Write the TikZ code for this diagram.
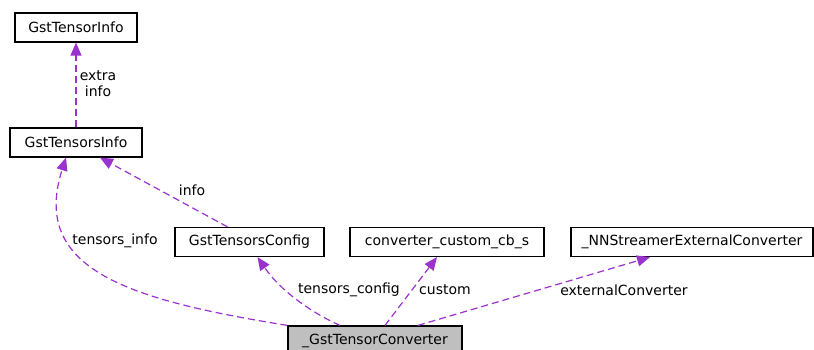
\documentclass[tikz,border=0pt]{standalone}
\usepackage{fontspec}
\setmainfont{DejaVu Sans}
\usetikzlibrary{arrows.meta}
\definecolor{edgepurple}{HTML}{9A32CD}
\definecolor{boxgray}{HTML}{BFBFBF}
\tikzset{
  box/.style={draw, line width=1.2pt, fill=white, minimum height=29pt, inner sep=0pt, font=\fontsize{14}{16}\selectfont},
  edge/.style={draw=edgepurple, line width=1.2pt, dash pattern=on 7pt off 4pt, -{Triangle[length=13pt,width=11pt,fill=edgepurple]}},
  lbl/.style={font=\fontsize{14}{16}\selectfont, align=center}
}
\begin{document}
\begin{tikzpicture}[x=1pt,y=-1pt]
		\useasboundingbox (0,0) rectangle (814,350);
		% Classes
		\node[box, minimum width=122pt] (tinfo) at (76,27.5) {GstTensorInfo};
		\node[box, minimum width=132pt] (tsinfo) at (76,142.5) {GstTensorsInfo};
		\node[box, minimum width=149pt] (tsconfig) at (249.5,242) {GstTensorsConfig};
		\node[box, minimum width=194pt] (custom) at (447,242) {converter\_custom\_cb\_s};
		\node[box, minimum width=242pt] (extconv) at (692,242) {\_NNStreamerExternalConverter};
		\node[box, minimum width=174pt, fill=boxgray] (conv) at (375,340.5) {\_GstTensorConverter};
		
		% Edges
		\draw[edge] (tsinfo.north) -- (tinfo.south);
		\draw[edge] ([xshift=-22pt]tsconfig.north) -- ([xshift=24pt]tsinfo.south);
		\draw[edge] (conv.north west) .. controls (130,300) and (30,270) .. ([xshift=-10pt]tsinfo.south);
		\draw[edge] ([xshift=-35pt]conv.north) .. controls (310,312) and (280,290) .. ([xshift=8pt]tsconfig.south);
		\draw[edge] ([xshift=10pt]conv.north) -- ([xshift=-10pt]custom.south);
		\draw[edge] ([xshift=43pt]conv.north) -- ([xshift=-42pt]extconv.south);
		
		% Labels
		\node[lbl] (lextra) at (98,84) {extra\\info};
		\node[lbl] (linfo) at (192,190) {info};
		\node[lbl] (ltsinfo) at (115,241) {tensors\_info};
		\node[lbl] (ltsconfig) at (349,290) {tensors\_config};
		\node[lbl] (lcustom) at (445,290) {custom};
		\node[lbl] (lext) at (624,290) {externalConverter};
\end{tikzpicture}
\end{document}
